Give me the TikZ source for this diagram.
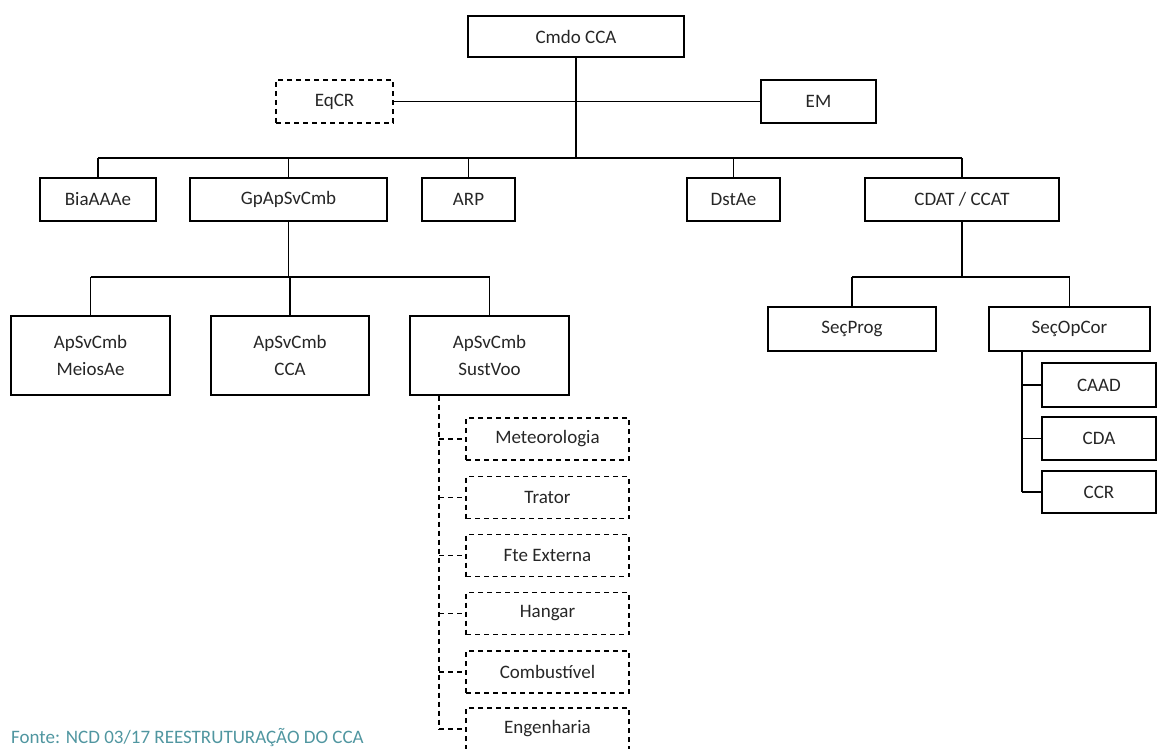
\documentclass[tikz,border=0pt]{standalone}
\usepackage{fontspec}
\setmainfont{Carlito}
\usepackage{tikz}

\definecolor{fontecol}{RGB}{80,150,160}

\tikzset{
  unit/.style={draw, line width=1.3pt, inner sep=0pt, align=center,
    font=\fontsize{19}{27}\selectfont, text=black!85},
  unitdash/.style={unit, dash pattern=on 5pt off 4pt},
  link/.style={line width=1.3pt},
  linkdash/.style={line width=1.3pt, dash pattern=on 5pt off 4pt}
}

\begin{document}
\begin{tikzpicture}[x=1pt, y=-1pt]
\useasboundingbox (0,0) rectangle (1157,749);

% ======================
% Command and staff
% ======================
\node[unit, minimum width=216, minimum height=41] (cmdo) at (576,36.5) {Cmdo CCA};
\node[unitdash, minimum width=117, minimum height=43] (eqcr) at (334.5,101.5) {EqCR};
\node[unit, minimum width=115, minimum height=43] (em) at (818.5,101.5) {EM};

\coordinate (bus1) at (576,158);
\draw[link] (eqcr.east) -- (em.west);
\draw[link] (cmdo.south) -- (cmdo.south |- bus1);

% ======================
% Subordinate units
% ======================
\node[unit, minimum width=116, minimum height=43] (bia) at (98,199.5) {BiaAAAe};
\node[unit, minimum width=197, minimum height=43] (gp) at (288.5,199.5) {GpApSvCmb};
\node[unit, minimum width=93, minimum height=43] (arp) at (468.5,199.5) {ARP};
\node[unit, minimum width=93, minimum height=43] (dst) at (733.5,199.5) {DstAe};
\node[unit, minimum width=194, minimum height=43] (cdat) at (962,199.5) {CDAT / CCAT};

\draw[link] (bia.north |- bus1) -- (cdat.north |- bus1);
\foreach \n in {bia,gp,arp,dst,cdat}
  \draw[link] (\n.north) -- (\n.north |- bus1);

% ======================
% GpApSvCmb
% ======================
\node[unit, minimum width=159, minimum height=79] (meios) at (90.5,355.5) {ApSvCmb\\MeiosAe};
\node[unit, minimum width=158, minimum height=79] (cca) at (290,355.5) {ApSvCmb\\CCA};
\node[unit, minimum width=159, minimum height=79] (sust) at (489.5,355.5) {ApSvCmb\\SustVoo};

\coordinate (bus2) at (290,277);
\draw[link] (gp.south) -- (gp.south |- bus2);
\draw[link] (meios.north |- bus2) -- (sust.north |- bus2);
\foreach \n in {meios,cca,sust}
  \draw[link] (\n.north) -- (\n.north |- bus2);

% ======================
% SustVoo elements (dashed)
% ======================
\foreach \n/\y/\t in {met/439/Meteorologia, trat/497.5/Trator, fte/555.5/Fte Externa,
    hang/613.5/Hangar, comb/672/Combustível, eng/729/Engenharia}
  \node[unitdash, minimum width=163, minimum height=42] (\n) at (547.5,\y) {\t};

\coordinate (sv) at ([xshift=-50.5pt]sust.south);
\draw[linkdash] (sv) -- (sv |- eng.west);
\foreach \n in {met,trat,fte,hang,comb,eng}
  \draw[linkdash] (sv |- \n.west) -- (\n.west);

% ======================
% CDAT / CCAT
% ======================
\node[unit, minimum width=168, minimum height=44] (seqprog) at (852,329) {SeçProg};
\node[unit, minimum width=161, minimum height=44] (seqop) at (1069.5,329) {SeçOpCor};

\coordinate (bus3) at (962,277);
\draw[link] (cdat.south) -- (cdat.south |- bus3);
\draw[link] (seqprog.north |- bus3) -- (seqop.north |- bus3);
\foreach \n in {seqprog,seqop}
  \draw[link] (\n.north) -- (\n.north |- bus3);

\node[unit, minimum width=114, minimum height=44] (caad) at (1099,385) {CAAD};
\node[unit, minimum width=114, minimum height=43] (cda) at (1099,438.5) {CDA};
\node[unit, minimum width=114, minimum height=42] (ccr) at (1099,492) {CCR};

\coordinate (so) at ([xshift=-47.5pt]seqop.south);
\draw[link] (so) -- (so |- ccr.west);
\foreach \n in {caad,cda,ccr}
  \draw[link] (so |- \n.west) -- (\n.west);

% ======================
% Source
% ======================
\node[anchor=base west, inner sep=0pt, text=fontecol, font=\fontsize{19}{22}\selectfont]
  (fonte) at (11,743) {Fonte: NCD 03/17 REESTRUTURAÇÃO DO CCA};

\end{tikzpicture}
\end{document}
